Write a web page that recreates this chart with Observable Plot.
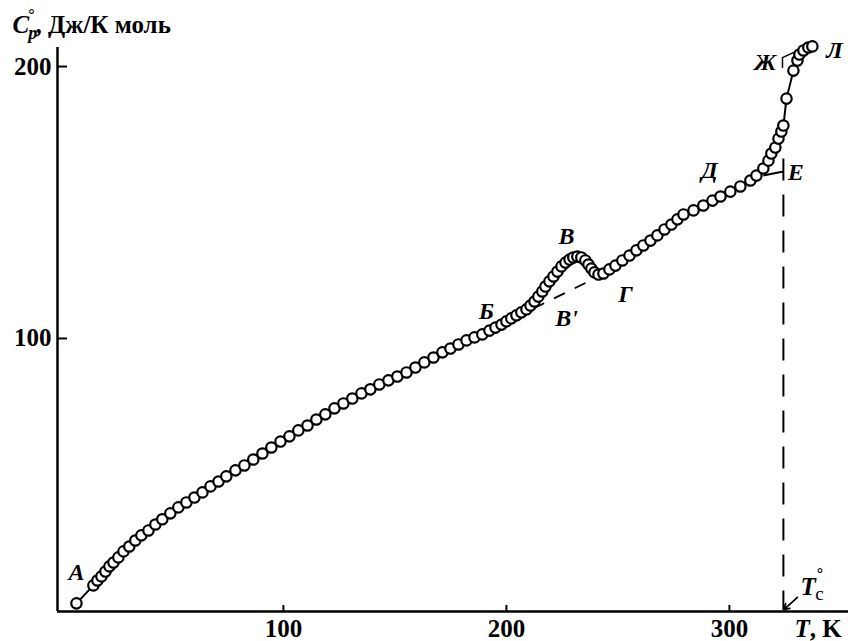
<!DOCTYPE html>
<html><head><meta charset="utf-8">
<script src="https://cdn.jsdelivr.net/npm/d3@7"></script>
<script src="https://cdn.jsdelivr.net/npm/@observablehq/plot@0.6"></script>
<style>body{margin:0;background:#fff}#chart svg{display:block}</style>
</head><body><div id="chart"></div>
<script>
// Measured heat capacity C°p (J/K mol) vs temperature T (K)
const T = [7.2,14.8,16.6,18.4,20.2,22.0,23.8,26.0,28.3,30.9,33.6,36.3,39.5,42.6,45.7,49.3,52.9,56.5,60.1,63.7,67.3,70.9,74.4,78.5,82.5,86.5,90.6,94.6,98.7,102.7,106.7,110.8,114.8,118.8,122.9,126.9,130.9,135.0,139.0,143.0,147.1,151.1,155.2,159.2,163.2,167.3,171.3,174.9,178.5,182.1,185.7,189.2,192.4,195.1,197.8,200.0,202.2,204.5,206.7,209.0,210.8,212.6,214.3,216.1,217.5,219.3,221.1,222.9,224.7,226.5,228.3,230.0,231.8,233.6,235.4,236.8,238.1,239.5,241.3,243.5,246.2,248.9,252.0,255.2,258.3,261.4,264.6,267.7,270.9,274.0,276.7,279.4,283.9,288.3,292.4,296.0,300.4,304.9,309.4,312.1,315.2,317.5,318.8,320.6,322.0,323.3,324.2,325.6,328.7,330.5,331.4,333.2,335.4,337.2];
const Cp = [2.6,9.2,11.0,12.5,14.3,16.2,17.6,19.5,21.7,23.5,25.7,27.6,29.4,31.6,33.5,35.7,37.9,39.7,41.5,43.4,45.6,47.4,49.3,51.5,53.3,55.5,57.7,59.9,62.1,64.0,66.2,68.0,70.2,72.1,74.3,76.1,77.9,79.8,81.3,83.1,84.6,86.0,87.5,89.3,91.2,93.0,94.9,96.3,97.8,99.3,100.4,101.5,102.9,104.0,105.1,106.3,107.4,108.5,109.6,110.7,112.1,113.6,115.4,117.3,119.1,121.0,122.8,124.6,126.5,127.9,129.0,129.8,130.1,129.8,128.7,127.2,125.7,124.3,123.5,123.9,125.4,126.8,128.7,130.5,132.4,134.2,136.0,137.9,140.1,141.9,143.8,145.6,147.1,148.9,150.7,152.2,154.0,155.9,158.1,159.9,162.5,165.4,168.0,170.2,173.5,176.1,178.3,188.2,198.5,202.2,204.4,205.9,207.0,207.4];

const xTicks = [100, 200, 300];
const yTicks = [100, 200];
const xDomain = [-1.3, 353.4];
const yDomain = [-0.4, 207];

// point labels
const labelText = ["А", "Б", "В", "В'", "Г", "Д", "Е", "Ж", "Л"];
const labelT    = [7.2, 191.0, 226.9, 227.0, 253.4, 291.0, 329.8, 316.1, 347.1];
const labelCp   = [14.0, 110.0, 137.5, 107.4, 116.2, 161.8, 161.0, 201.5, 205.9];

// guide lines
const Tc = 324.2;
const TcTop = 166;
const baselineT = [212.1, 237.7];   // Б–Г dashed baseline (В')
const baselineCp = [111.0, 121.3];
const eGuideT = [315.2, 324.2];
const eGuideCp = [159.9, 161.4];
const zhGuideT = [323.8, 323.8, 328.7];
const zhGuideCp = [199.6, 203.3, 205.1];
const tcArrowT = [330.5, 324.4];
const tcArrowCp = [4.8, 0.3];

const data = T.map((t, i) => ({T: t, Cp: Cp[i]}));
const labels = labelText.map((s, i) => ({s, T: labelT[i], Cp: labelCp[i]}));
const zh = zhGuideT.map((t, i) => ({T: t, Cp: zhGuideCp[i]}));

const W = 848, H = 641, mL = 57, mR = 0, mT = 47, mB = 30;
const fw = W - mL - mR, fh = H - mT - mB;
const serif = "Liberation Serif, Times New Roman, serif";
const mid = {lineAnchor: "middle"};

const chart = Plot.plot({
  width: W, height: H,
  marginLeft: mL, marginRight: mR, marginTop: mT, marginBottom: mB,
  x: {domain: xDomain, axis: null},
  y: {domain: yDomain, axis: null},
  style: {fontFamily: serif, color: "black", background: "white"},
  marks: [
    // axes lines
    Plot.ruleX([xDomain[0]], {stroke: "black", strokeWidth: 2.5}),
    Plot.ruleY([yDomain[0]], {stroke: "black", strokeWidth: 2.5}),
    // ticks (inward)
    Plot.tickY(yTicks, {y: d => d, insetRight: fw - 10, stroke: "black", strokeWidth: 2}),
    Plot.tickX(xTicks, {x: d => d, insetTop: fh - 6, stroke: "black", strokeWidth: 2}),
    // tick labels
    Plot.text(yTicks, {y: d => d, text: d => String(d), frameAnchor: "left", textAnchor: "end", dx: -6, fontSize: 25, fontWeight: "bold", ...mid}),
    Plot.text(xTicks, {x: d => d, text: d => String(d), frameAnchor: "bottom", dy: 17, fontSize: 25, fontWeight: "bold", ...mid}),
    // y title  C°p, Дж/К моль (rebuilt with tspans below)
    Plot.text(["Cp°title"], {frameAnchor: "top-left", textAnchor: "start", dx: -45, dy: -23, fontSize: 25, fontWeight: "bold", ...mid}),
    // x title  T, K
    Plot.text(["TKtitle"], {frameAnchor: "bottom-right", textAnchor: "start", dx: -54, dy: 17, fontSize: 25, fontWeight: "bold", ...mid}),
    // T°c label
    Plot.text(["Tclabel"], {frameAnchor: "bottom-right", textAnchor: "start", dx: -48, dy: -25, fontSize: 25, fontWeight: "bold", ...mid}),
    // guides
    Plot.ruleX([Tc], {y1: TcTop, y2: 0, stroke: "black", strokeWidth: 2, strokeDasharray: "22,14"}),
    Plot.link([0], {x1: () => baselineT[0], y1: () => baselineCp[0], x2: () => baselineT[1], y2: () => baselineCp[1], stroke: "black", strokeWidth: 1.8, strokeDasharray: "12,11"}),
    Plot.link([0], {x1: () => eGuideT[0], y1: () => eGuideCp[0], x2: () => eGuideT[1], y2: () => eGuideCp[1], stroke: "black", strokeWidth: 2}),
    Plot.line(zh, {x: "T", y: "Cp", stroke: "black", strokeWidth: 1.5}),
    Plot.arrow([0], {x1: () => tcArrowT[0], y1: () => tcArrowCp[0], x2: () => tcArrowT[1], y2: () => tcArrowCp[1], stroke: "black", strokeWidth: 1.8, headLength: 8}),
    // data
    Plot.line(data, {x: "T", y: "Cp", stroke: "black", strokeWidth: 2}),
    Plot.dot(data, {x: "T", y: "Cp", r: 5.2, fill: "white", stroke: "black", strokeWidth: 2.2}),
    // point labels
    Plot.text(labels, {x: "T", y: "Cp", text: "s", fontSize: 24, fontStyle: "italic", fontWeight: "bold"})
  ]
});

// rich text: italic symbols with super/subscripts
function rich(placeholder, parts) {
  d3.select(chart).selectAll("text").filter(function () { return this.textContent === placeholder; })
    .each(function () {
      const t = d3.select(this);
      t.text(null);
      for (const p of parts) {
        const s = t.append("tspan").text(p.text);
        if (p.italic) s.attr("font-style", "italic");
        if (p.size) s.attr("font-size", p.size);
        if (p.dx) s.attr("dx", p.dx);
        if (p.dy) s.attr("dy", p.dy);
        if (p.weight) s.attr("font-weight", p.weight);
      }
    });
}
rich("Cp°title", [
  {text: "C", italic: true},
  {text: "p", italic: true, size: 18, dy: 6, dx: -1},
  {text: "°", size: 16, dx: -9, dy: -19},
  {text: ", Дж/К моль", dy: 13, dx: 1}
]);
rich("TKtitle", [
  {text: "T", italic: true},
  {text: ", K"}
]);
rich("Tclabel", [
  {text: "T", italic: true},
  {text: "°", size: 16, dx: 1, dy: -16},
  {text: "c", size: 19, weight: "normal", dx: -8, dy: 21}
]);
document.getElementById("chart").appendChild(chart);
</script>
</body></html>
